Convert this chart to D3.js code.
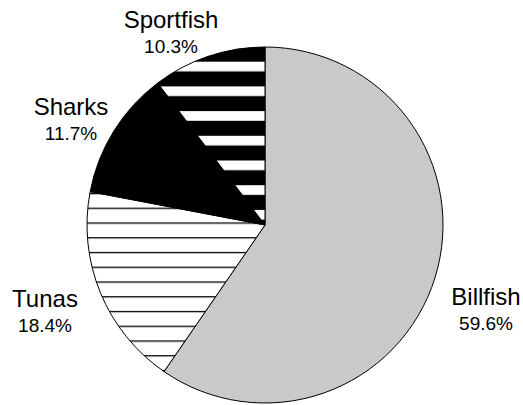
<!DOCTYPE html>
<html>
<head>
<meta charset="utf-8">
<script src="https://d3js.org/d3.v7.min.js"></script>
<style>
  body { margin: 0; background: #fff; }
  text { font-family: "Liberation Sans", Arial, Helvetica, sans-serif; fill: #000; }
</style>
</head>
<body>
<div id="chart"></div>
<script>
// data
let categories = ["Billfish", "Tunas", "Sharks", "Sportfish"];
let shares = [59.6, 18.4, 11.7, 10.3];
let pctLabels = ["59.6%", "18.4%", "11.7%", "10.3%"];

let width = 523, height = 405;
let cx = 265, cy = 225, radius = 178;

let svg = d3.select("#chart").append("svg")
  .attr("width", width)
  .attr("height", height);

let defs = svg.append("defs");

// thin horizontal lines (Tunas)
let pThin = defs.append("pattern")
  .attr("id", "thinLines")
  .attr("patternUnits", "userSpaceOnUse")
  .attr("width", 20).attr("height", 14.75)
  .attr("y", 208.3 - cy - 0.65);
pThin.append("rect").attr("width", 20).attr("height", 14.75).attr("fill", "#fff");
pThin.append("rect").attr("width", 20).attr("height", 1.3).attr("fill", "#000");

// thick stripes (Sportfish)
let pThick = defs.append("pattern")
  .attr("id", "thickStripes")
  .attr("patternUnits", "userSpaceOnUse")
  .attr("width", 20).attr("height", 24.7)
  .attr("y", 61.7 - cy);
pThick.append("rect").attr("width", 20).attr("height", 24.7).attr("fill", "#000");
pThick.append("rect").attr("width", 20).attr("height", 9.7).attr("fill", "#fff");

let fills = {
  "Billfish": "#c9c9c9",
  "Tunas": "url(#thinLines)",
  "Sharks": "#000",
  "Sportfish": "url(#thickStripes)"
};

let data = categories.map((c, i) => ({ name: c, value: shares[i], pct: pctLabels[i] }));

let pie = d3.pie().sort(null).value(d => d.value);
let arc = d3.arc().innerRadius(0).outerRadius(radius);
let arcs = pie(data);

let g = svg.append("g").attr("transform", `translate(${cx},${cy})`);

g.selectAll("path")
  .data(arcs)
  .enter()
  .append("path")
  .attr("d", arc)
  .attr("fill", d => fills[d.data.name])
  .attr("stroke", "#000")
  .attr("stroke-width", 1);

// label anchors (name baseline, centred) outside the pie
let labelPos = {
  "Billfish": [486, 305],
  "Tunas": [45, 307],
  "Sharks": [71, 115],
  "Sportfish": [171, 28]
};

let labels = svg.selectAll(".lbl")
  .data(arcs)
  .enter()
  .append("g")
  .attr("class", "lbl")
  .attr("transform", d => {
    let p = labelPos[d.data.name];
    return `translate(${p[0]},${p[1]})`;
  });

labels.append("text")
  .attr("text-anchor", "middle")
  .style("font-size", "24px")
  .text(d => d.data.name);

labels.append("text")
  .attr("text-anchor", "middle")
  .attr("y", 25)
  .style("font-size", "19px")
  .text(d => d.data.pct);
</script>
</body>
</html>
